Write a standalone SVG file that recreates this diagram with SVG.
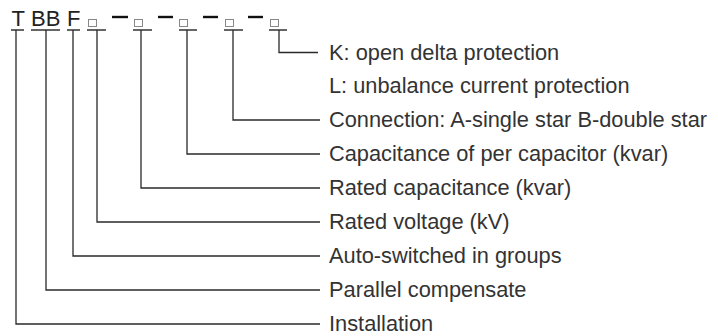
<svg xmlns="http://www.w3.org/2000/svg" width="718" height="336" viewBox="0 0 718 336">
<style>
.code{font-family:"Liberation Sans",Arial,sans-serif;font-size:22px;fill:#222}
.lbl{font-family:"Liberation Sans",Arial,sans-serif;font-size:21.8px;fill:#333}
.ln{fill:none;stroke:#2a2a2a;stroke-width:1.3}
.ul{stroke:#333;stroke-width:1.5}
.dash{stroke:#111;stroke-width:2.4}
.sq{fill:none;stroke:#888;stroke-width:1}
</style>
<rect width="718" height="336" fill="#fff"/>
<g id="code">
<text class="code" x="11.5" y="26">T</text>
<text class="code" x="31" y="26">BB</text>
<text class="code" x="67" y="26">F</text>
<rect class="sq" x="88.5" y="19.5" width="8" height="7"/>
<rect class="sq" x="134.5" y="19.5" width="8" height="7"/>
<rect class="sq" x="179.5" y="19.5" width="8" height="7"/>
<rect class="sq" x="225.5" y="19.5" width="8" height="7"/>
<rect class="sq" x="270.5" y="19.5" width="8" height="7"/>
<line class="dash" x1="112" y1="17" x2="128" y2="17"/>
<line class="dash" x1="158" y1="17" x2="173" y2="17"/>
<line class="dash" x1="203" y1="17" x2="218" y2="17"/>
<line class="dash" x1="248" y1="17" x2="263" y2="17"/>
<line class="ul" x1="11" y1="30" x2="24" y2="30"/>
<line class="ul" x1="31" y1="30" x2="60" y2="30"/>
<line class="ul" x1="67" y1="30" x2="80" y2="30"/>
<line class="ul" x1="87" y1="30" x2="106" y2="30"/>
<line class="ul" x1="133" y1="30" x2="152" y2="30"/>
<line class="ul" x1="179" y1="30" x2="197" y2="30"/>
<line class="ul" x1="224" y1="30" x2="243" y2="30"/>
<line class="ul" x1="269" y1="30" x2="287" y2="30"/>
</g>
<g id="connectors">
<path class="ln" d="M16,30V324H320"/>
<path class="ln" d="M46,30V290H320"/>
<path class="ln" d="M73,30V256H320"/>
<path class="ln" d="M97,30V222H320"/>
<path class="ln" d="M141,30V188H320"/>
<path class="ln" d="M187,30V154H320"/>
<path class="ln" d="M233,30V120H320"/>
<path class="ln" d="M279,30V52.5H318"/>
</g>
<g id="labels">
<text class="lbl" x="329" y="59.5">K: open delta protection</text>
<text class="lbl" x="329" y="93">L: unbalance current protection</text>
<text class="lbl" x="329" y="127">Connection: A-single star B-double star</text>
<text class="lbl" x="329" y="161">Capacitance of per capacitor (kvar)</text>
<text class="lbl" x="329" y="195">Rated capacitance (kvar)</text>
<text class="lbl" x="329" y="229">Rated voltage (kV)</text>
<text class="lbl" x="329" y="263">Auto-switched in groups</text>
<text class="lbl" x="329" y="297">Parallel compensate</text>
<text class="lbl" x="329" y="331">Installation</text>
</g>
</svg>
